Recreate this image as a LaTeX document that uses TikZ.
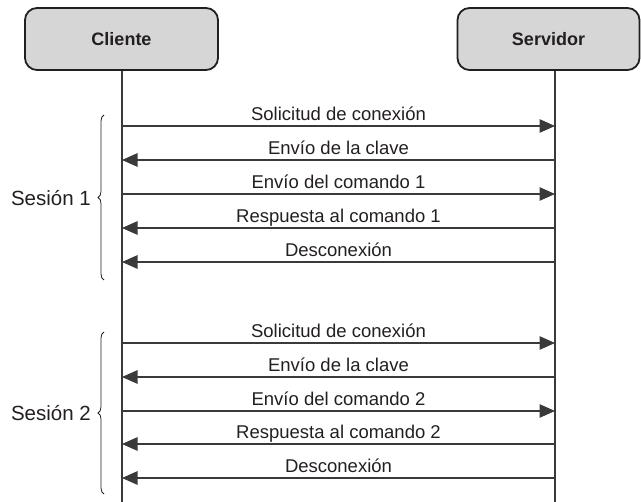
\documentclass[tikz,border=0pt]{standalone}
\usepackage{fontspec}
\setmainfont{Liberation Sans}
\usetikzlibrary{arrows.meta,decorations.pathreplacing}
\definecolor{ink}{HTML}{231F20}
\definecolor{lineg}{HTML}{3A3A3A}
\definecolor{boxfill}{HTML}{D6D6D6}
\tikzset{
  actor/.style={draw=ink,line width=1.8pt,fill=boxfill,rounded corners=12pt,text=ink,font=\fontsize{18}{20}\selectfont\bfseries},
  lifeline/.style={draw=lineg,line width=1.1pt},
  msg/.style={draw=lineg,line width=1.1pt,-{Triangle[length=15.5pt,width=13.5pt]}},
  msglabel/.style={anchor=base,text=ink,inner sep=0pt,font=\fontsize{18.5}{20}\selectfont},
  sesslabel/.style={anchor=east,text=ink,inner sep=0pt,font=\fontsize{20.5}{22}\selectfont},
  bracestyle/.style={draw=ink,line width=0.8pt,decorate,decoration={brace,amplitude=6pt}}
}
\begin{document}
\begin{tikzpicture}[x=1pt,y=-1pt]
\useasboundingbox (0,0) rectangle (641,502);
\node[actor,minimum width=193pt,minimum height=62pt] (cli) at (121.5,39) {Cliente};
\node[actor,minimum width=182pt,minimum height=62pt] (srv) at (548.5,39) {Servidor};
\coordinate (cb) at (122,502);
\coordinate (sb) at (555,502);
\draw[lifeline] (cli.south -| cb) -- (cb);
\draw[lifeline] (srv.south -| sb) -- (sb);
\foreach \y/\dir/\txt/\nm in {126/r/Solicitud de conexión/a1,160/l/Envío de la clave/a2,194/r/Envío del comando 1/a3,228/l/Respuesta al comando 1/a4,262/l/Desconexión/a5,343/r/Solicitud de conexión/b1,377/l/Envío de la clave/b2,411/r/Envío del comando 2/b3,444/l/Respuesta al comando 2/b4,478/l/Desconexión/b5}{
  \coordinate (\nm c) at (122,\y);
  \coordinate (\nm s) at (555,\y);
  \if\dir r
    \draw[msg] (\nm c) -- (\nm s);
  \else
    \draw[msg] (\nm s) -- (\nm c);
  \fi
  \node[msglabel] (\nm t) at (338.5,\y-5) {\txt};
}
\coordinate (br1b) at (104,280);
\coordinate (br1t) at (104,115);
\draw[bracestyle] (br1b) -- (br1t);
\node[sesslabel] (s1) at (91,198) {Sesión 1};
\coordinate (br2b) at (104,494);
\coordinate (br2t) at (104,332);
\draw[bracestyle] (br2b) -- (br2t);
\node[sesslabel] (s2) at (91,413) {Sesión 2};
\end{tikzpicture}
\end{document}
